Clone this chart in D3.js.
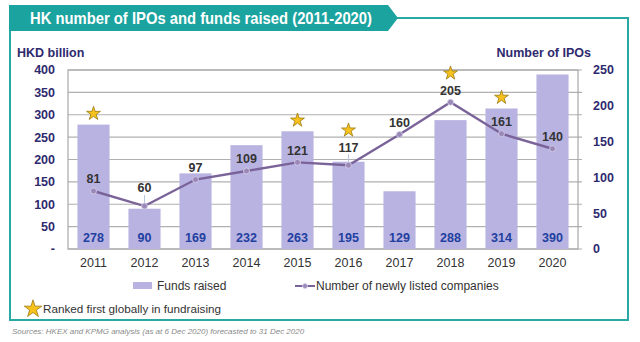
<!DOCTYPE html>
<html><head><meta charset="utf-8">
<script src="https://cdn.jsdelivr.net/npm/d3@7"></script>
<style>body{margin:0;background:#fff}svg{display:block}text{font-family:"Liberation Sans",Arial,sans-serif}</style>
</head><body><svg id="c" width="640" height="342"></svg>
<script>
const years = ["2011","2012","2013","2014","2015","2016","2017","2018","2019","2020"];
const funds = [278, 90, 169, 232, 263, 195, 129, 288, 314, 390];
const ipos = [81, 60, 97, 109, 121, 117, 160, 205, 161, 140];
const rankedFirst = ["2011","2015","2016","2018","2019"];
const leaderYears = ["2012","2016"];
const leftTicks = [0, 50, 100, 150, 200, 250, 300, 350, 400];
const rightTicks = [0, 50, 100, 150, 200, 250];
const title = "HK number of IPOs and funds raised (2011-2020)";
const leftTitle = "HKD billion";
const rightTitle = "Number of IPOs";
const legendBar = "Funds raised";
const legendLine = "Number of newly listed companies";
const legendStar = "Ranked first globally in fundraising";
const source = "Sources: HKEX and KPMG analysis (as at 6 Dec 2020) forecasted to 31 Dec 2020";

const svg = d3.select("#c");
const teal = "#1ba39f", navy = "#2e2a6e", barC = "#b9b3e1", lineC = "#7a6399";

// frame + banner
svg.append("path").attr("d", "M10,30 V320 H628 V18 H396").attr("fill", "none").attr("stroke", "#2aa8a4").attr("stroke-width", 2);
svg.append("path").attr("d", "M9,5 H388 L398,18 L388,31 H9 Z").attr("fill", teal);
svg.append("text").attr("x", 30).attr("y", 24).attr("fill", "#fff").attr("font-weight", "bold")
  .attr("font-size", 16.5).attr("textLength", 342).attr("lengthAdjust", "spacingAndGlyphs").text(title);

const L = 68, R = 578, T = 70, B = 249;
const x = d3.scaleBand().domain(years).range([L, R]).paddingInner(0.37).paddingOuter(0.185);
const yL = d3.scaleLinear().domain([0, 400]).range([B, T]);
const yR = d3.scaleLinear().domain([0, 250]).range([B, T]);

// gridlines
svg.append("g").selectAll("line").data(leftTicks).join("line")
  .attr("x1", L).attr("x2", R + 4).attr("y1", d => yL(d)).attr("y2", d => yL(d))
  .attr("stroke", "#b0b0b0").attr("stroke-width", 1.2);
svg.append("rect").attr("x", L).attr("y", T).attr("width", R - L).attr("height", B - T)
  .attr("fill", "none").attr("stroke", "#a8a8a8").attr("stroke-width", 1.2);

// left axis labels
svg.append("g").selectAll("text").data(leftTicks).join("text")
  .attr("x", 55).attr("y", d => yL(d)).attr("dy", "0.35em").attr("text-anchor", "end")
  .attr("font-weight", "bold").attr("font-size", 12.5).attr("fill", navy)
  .text(d => d === 0 ? "-" : d);
// right axis labels
svg.append("g").selectAll("text").data(rightTicks).join("text")
  .attr("x", 593).attr("y", d => yR(d)).attr("dy", "0.35em").attr("text-anchor", "start")
  .attr("font-weight", "bold").attr("font-size", 12.5).attr("fill", navy).text(d => d);
svg.append("text").attr("x", 17).attr("y", 57).attr("font-weight", "bold").attr("font-size", 12.5).attr("fill", navy).text(leftTitle);
svg.append("text").attr("x", 591).attr("y", 57).attr("text-anchor", "end").attr("font-weight", "bold").attr("font-size", 12.5).attr("fill", navy).text(rightTitle);

// bars
svg.append("g").selectAll("rect").data(years).join("rect")
  .attr("x", d => x(d)).attr("width", x.bandwidth())
  .attr("y", (d, i) => yL(funds[i])).attr("height", (d, i) => yL(0) - yL(funds[i]))
  .attr("fill", barC);
svg.append("g").selectAll("text").data(years).join("text")
  .attr("x", d => x(d) + x.bandwidth() / 2).attr("y", yL(0) - 11).attr("dy", "0.35em")
  .attr("text-anchor", "middle").attr("font-weight", "bold").attr("font-size", 12.5).attr("fill", "#2240a0")
  .text((d, i) => funds[i]);

// x labels
svg.append("g").selectAll("text").data(years).join("text")
  .attr("x", d => x(d) + x.bandwidth() / 2).attr("y", 263).attr("dy", "0.35em")
  .attr("text-anchor", "middle").attr("font-size", 12.5).attr("fill", "#333").text(d => d);

// line
const cx = d => x(d) + x.bandwidth() / 2;
const line = d3.line().x((d, i) => cx(years[i])).y(d => yR(d));
svg.append("path").datum(ipos).attr("d", line).attr("fill", "none").attr("stroke", lineC).attr("stroke-width", 2.4);
const off = d => leaderYears.includes(d) ? 18 : 12;
svg.append("g").selectAll("line").data(years.filter(d => leaderYears.includes(d))).join("line")
  .attr("x1", d => cx(d)).attr("x2", d => cx(d))
  .attr("y1", d => yR(ipos[years.indexOf(d)]) - 11).attr("y2", d => yR(ipos[years.indexOf(d)]) - 2)
  .attr("stroke", "#b8c8e0").attr("stroke-width", 1);
svg.append("g").selectAll("circle").data(years).join("circle")
  .attr("cx", d => cx(d)).attr("cy", (d, i) => yR(ipos[i])).attr("r", 3)
  .attr("fill", "#9a89b8").attr("stroke", "#d9d2ea").attr("stroke-width", 0.8);
svg.append("g").selectAll("text").data(years).join("text")
  .attr("x", d => cx(d)).attr("y", (d, i) => yR(ipos[i]) - off(d)).attr("dy", "0.35em")
  .attr("text-anchor", "middle").attr("font-weight", "bold").attr("font-size", 12.5).attr("fill", "#333")
  .text((d, i) => ipos[i]);

// stars
const star = d3.symbol().type(d3.symbolStar);
svg.append("g").selectAll("path").data(rankedFirst).join("path")
  .attr("d", star.size(60)())
  .attr("transform", d => {
    const i = years.indexOf(d);
    const barTop = yL(funds[i]);
    const labTop = yR(ipos[i]) - off(d) - 6;
    return `translate(${cx(d)},${Math.min(barTop, labTop) - 11})`;
  })
  .attr("fill", "#f7c21e").attr("stroke", "#9b7a10").attr("stroke-width", 0.8);

// legend
svg.append("rect").attr("x", 133).attr("y", 282).attr("width", 19).attr("height", 7).attr("fill", barC);
svg.append("text").attr("x", 157).attr("y", 286).attr("dy", "0.35em").attr("font-size", 12).attr("fill", "#333").text(legendBar);
svg.append("line").attr("x1", 295).attr("x2", 315).attr("y1", 286).attr("y2", 286).attr("stroke", lineC).attr("stroke-width", 2);
svg.append("circle").attr("cx", 305).attr("cy", 286).attr("r", 2.5).attr("fill", "#9a89b8").attr("stroke", "#d9d2ea").attr("stroke-width", 0.8);
svg.append("text").attr("x", 316).attr("y", 286).attr("dy", "0.35em").attr("font-size", 12).attr("fill", "#333").text(legendLine);
svg.append("path").attr("d", star.size(95)()).attr("transform", "translate(33,309)")
  .attr("fill", "#f7c21e").attr("stroke", "#9b7a10").attr("stroke-width", 0.8);
svg.append("text").attr("x", 43).attr("y", 309).attr("dy", "0.35em").attr("font-size", 11.7).attr("fill", "#333").text(legendStar);

svg.append("text").attr("x", 12).attr("y", 334).attr("font-size", 8).attr("font-style", "italic").attr("fill", "#8a8a8a").text(source);
</script></body></html>
